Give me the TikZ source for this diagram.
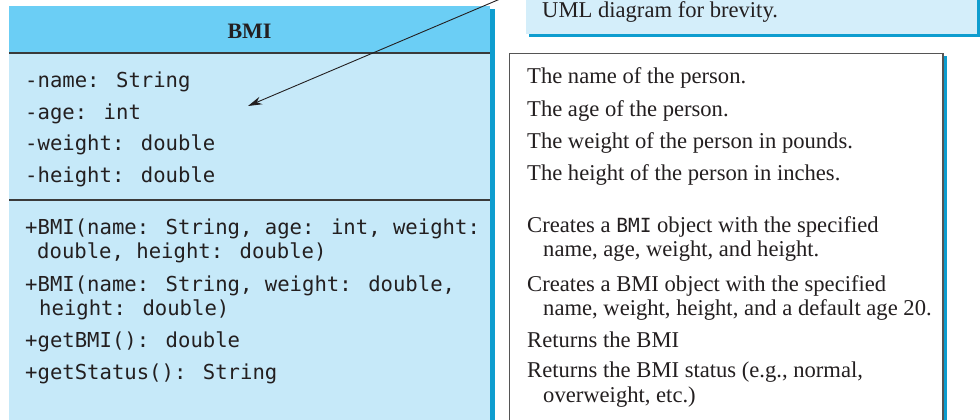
\documentclass[tikz,border=0pt]{standalone}
\usepackage{fontspec}
\setmainfont{Liberation Serif}
\newfontfamily\codefont{DejaVu Sans Mono}
\usetikzlibrary{arrows.meta}
\definecolor{headblue}{HTML}{6BCEF5}
\definecolor{bodyblue}{HTML}{C6E9F9}
\definecolor{noteblue}{HTML}{D4EEFA}
\definecolor{shadowblue}{HTML}{0E9DCF}
\definecolor{ink}{HTML}{231F20}
\definecolor{rulegray}{HTML}{3A3A3A}
\definecolor{framegray}{HTML}{555555}
\begin{document}
\begin{tikzpicture}[x=1pt,y=-1pt,
  code/.style={anchor=base west, inner sep=0pt, font=\codefont\fontsize{20.6}{23}\selectfont, text=ink},
  desc/.style={anchor=base west, inner sep=0pt, font=\fontsize{22.6}{26}\selectfont, text=ink},
  boxpart/.style={rectangle, inner sep=0pt, outer sep=0pt},
  sepline/.style={draw=rulegray, line width=1.6pt},
  pointer/.style={draw=ink, line width=0.9pt, -{Stealth[length=14pt,width=8pt]}}]
\useasboundingbox (0,0) rectangle (980,420);
\clip (0,0) rectangle (980,420);

% note (callout) at the top right
\fill[shadowblue] (529,-60) rectangle (980,37);
\node[boxpart, fill=noteblue, minimum width=451pt, minimum height=94pt] (note) at (751.5,-13) {};
\node[desc] (notetext) at (542,18) {UML diagram for brevity.};

% class box
\fill[shadowblue] (490,9) rectangle (494.5,440);
\node[boxpart, fill=headblue, minimum width=481pt, minimum height=47pt] (head) at (249.5,29.5) {};
\node[boxpart, fill=bodyblue, minimum width=481pt, minimum height=387pt] (body) at (249.5,246.5) {};
\node[inner sep=0pt, font=\bfseries\fontsize{22}{26}\selectfont, text=ink] (title) at (249.5,31) {BMI};
\draw[sepline] (head.south west) -- (head.south east);
\coordinate (sepL) at (9,200);
\coordinate (sepR) at (490,200);
\draw[sepline] (sepL) -- (sepR);

\node[code] (a1) at (25,88) {-name: String};
\node[code] (a2) at (25,119) {-age: int};
\node[code] (a3) at (25,150) {-weight: double};
\node[code] (a4) at (25,182) {-height: double};

\node[code] (m1) at (25,234) {+BMI(name: String, age: int, weight:};
\node[code] (m1b) at (37,258) {double, height: double)};
\node[code] (m2) at (25,291) {+BMI(name: String, weight: double,};
\node[code] (m2b) at (39,315) {height: double)};
\node[code] (m3) at (25,347) {+getBMI(): double};
\node[code] (m4) at (25,379) {+getStatus(): String};

% description box
\fill[shadowblue] (943,56) rectangle (947,440);
\node[boxpart, draw=framegray, line width=1.5pt, fill=white, minimum width=433.5pt, minimum height=390pt] (descbox) at (726.25,248.5) {};

\node[desc] (d1) at (527,84) {The name of the person.};
\node[desc] (d2) at (527,117) {The age of the person.};
\node[desc] (d3) at (527,148) {The weight of the person in pounds.};
\node[desc] (d4) at (527,180) {The height of the person in inches.};
\node[desc] (d5) at (527,232) {Creates a {\codefont\fontsize{19.5}{22}\selectfont BMI} object with the specified};
\node[desc] (d5b) at (543,256) {name, age, weight, and height.};
\node[desc] (d6) at (527,291) {Creates a BMI object with the specified};
\node[desc] (d6b) at (543,315) {name, weight, height, and a default age 20.};
\node[desc] (d7) at (527,347) {Returns the BMI};
\node[desc] (d8) at (527,377) {Returns the BMI status (e.g., normal,};
\node[desc] (d8b) at (543,402) {overweight, etc.)};

% pointer from note
\coordinate (tail) at (526,-12);
\coordinate (tip) at (248,106);
\draw[pointer] (tail) -- (tip);
\end{tikzpicture}
\end{document}
